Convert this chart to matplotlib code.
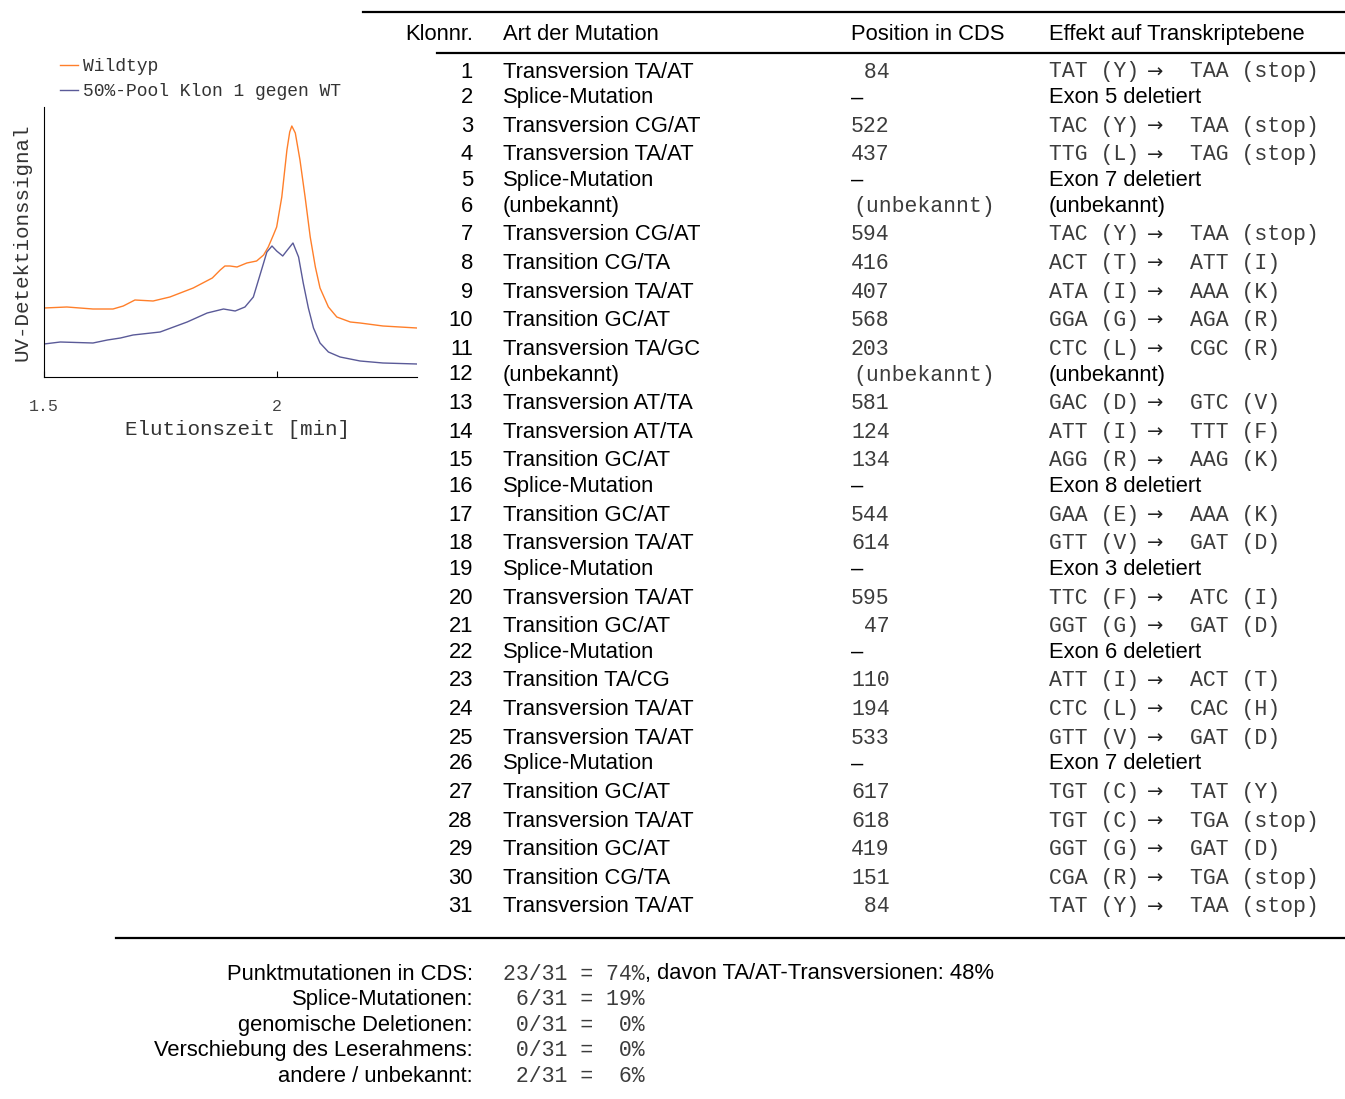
import matplotlib
matplotlib.use('Agg')
import matplotlib.pyplot as plt
from matplotlib.lines import Line2D

W, H = 1345, 1099

# chromatogram, signal in arbitrary units
time_wt = [1.500, 1.549, 1.605, 1.648, 1.670, 1.695, 1.734, 1.770, 1.820, 1.861,
           1.878, 1.888, 1.899, 1.914, 1.935, 1.956, 1.971, 1.981, 1.992, 1.999,
           2.010, 2.021, 2.027, 2.0315, 2.039, 2.049, 2.060, 2.071, 2.082, 2.092,
           2.110, 2.128, 2.157, 2.178, 2.227, 2.300]
sig_wt = [69, 70, 68, 68, 71, 77, 76, 80, 89, 99,
          107, 111, 111, 110, 114, 116, 122, 130, 142, 150,
          180, 227, 245, 251, 244, 217, 180, 140, 110, 89,
          70, 60, 55, 54, 51, 49]

time_pool = [1.500, 1.535, 1.605, 1.636, 1.664, 1.691, 1.749, 1.807, 1.850, 1.885,
             1.910, 1.931, 1.949, 1.960, 1.971, 1.978, 1.989, 1.999, 2.012, 2.022,
             2.034, 2.046, 2.056, 2.067, 2.078, 2.092, 2.110, 2.135, 2.178, 2.227,
             2.300]
sig_pool = [33, 35, 34, 37, 39, 42, 45, 55, 64, 68,
            66, 70, 80, 97, 114, 125, 131, 126, 121, 127,
            134, 120, 94, 69, 49, 34, 25, 20, 16, 14,
            13]

# table
klon = list(range(1, 32))
art = ['Transversion TA/AT', 'Splice-Mutation', 'Transversion CG/AT', 'Transversion TA/AT',
       'Splice-Mutation', '(unbekannt)', 'Transversion CG/AT', 'Transition CG/TA',
       'Transversion TA/AT', 'Transition GC/AT', 'Transversion TA/GC', '(unbekannt)',
       'Transversion AT/TA', 'Transversion AT/TA', 'Transition GC/AT', 'Splice-Mutation',
       'Transition GC/AT', 'Transversion TA/AT', 'Splice-Mutation', 'Transversion TA/AT',
       'Transition GC/AT', 'Splice-Mutation', 'Transition TA/CG', 'Transversion TA/AT',
       'Transversion TA/AT', 'Splice-Mutation', 'Transition GC/AT', 'Transversion TA/AT',
       'Transition GC/AT', 'Transition CG/TA', 'Transversion TA/AT']
position = ['84', '–', '522', '437', '–', '(unbekannt)', '594', '416', '407', '568',
            '203', '(unbekannt)', '581', '124', '134', '–', '544', '614', '–', '595',
            '47', '–', '110', '194', '533', '–', '617', '618', '419', '151', '84']
effekt = ['TAT (Y) → TAA (stop)', 'Exon 5 deletiert', 'TAC (Y) → TAA (stop)',
          'TTG (L) → TAG (stop)', 'Exon 7 deletiert', '(unbekannt)',
          'TAC (Y) → TAA (stop)', 'ACT (T) → ATT (I)', 'ATA (I) → AAA (K)',
          'GGA (G) → AGA (R)', 'CTC (L) → CGC (R)', '(unbekannt)',
          'GAC (D) → GTC (V)', 'ATT (I) → TTT (F)', 'AGG (R) → AAG (K)',
          'Exon 8 deletiert', 'GAA (E) → AAA (K)', 'GTT (V) → GAT (D)',
          'Exon 3 deletiert', 'TTC (F) → ATC (I)', 'GGT (G) → GAT (D)',
          'Exon 6 deletiert', 'ATT (I) → ACT (T)', 'CTC (L) → CAC (H)',
          'GTT (V) → GAT (D)', 'Exon 7 deletiert', 'TGT (C) → TAT (Y)',
          'TGT (C) → TGA (stop)', 'GGT (G) → GAT (D)', 'CGA (R) → TGA (stop)',
          'TAT (Y) → TAA (stop)']
headers = ['Klonnr.', 'Art der Mutation', 'Position in CDS', 'Effekt auf Transkriptebene']

sum_labels = ['Punktmutationen in CDS:', 'Splice-Mutationen:', 'genomische Deletionen:',
              'Verschiebung des Leserahmens:', 'andere / unbekannt:']
sum_count = [23, 6, 0, 0, 2]
sum_total = 31
sum_pct = [74, 19, 0, 0, 6]
sum_extra = ', davon TA/AT-Transversionen: 48%'

SANS = ['Liberation Sans', 'DejaVu Sans']
MONO = ['Liberation Mono', 'DejaVu Sans Mono']
MONO_COL = '#3c3c3c'
FS = 15.8
FS_M = 15.5


def fx(x):
    return x / W


def fy(y):
    return 1 - y / H


fig = plt.figure(figsize=(W / 100, H / 100), dpi=100)

# chart ------------------------------------------------------
ax = fig.add_axes([fx(44), fy(377), (417 - 44) / W, (377 - 107) / H])
ax.plot(time_wt, sig_wt, color='#ff7f2a', lw=1.0, label='Wildtyp')
ax.plot(time_pool, sig_pool, color='#5a5a98', lw=1.0, label='50%-Pool Klon 1 gegen WT')
ax.set_xlim(1.5, 2.3)
ax.set_ylim(0, 270)
ax.spines['top'].set_visible(False)
ax.spines['right'].set_visible(False)
ax.set_yticks([])
ax.set_xticks([1.5, 2])
ax.set_xticklabels(['1.5', '2'])
ax.tick_params(axis='x', direction='in', length=4, pad=16, labelsize=12,
               labelcolor='#444444')
for lab in ax.get_xticklabels():
    lab.set_family(MONO)
ax.set_xlabel('Elutionszeit [min]', family=MONO, fontsize=15, color='#333333')
ax.xaxis.set_label_coords(0.52, -0.16)
ax.set_ylabel('UV-Detektionssignal', family=MONO, fontsize=15, color='#333333', labelpad=9)
ax.legend(loc='upper left', bbox_to_anchor=(fx(60), fy(58)), bbox_transform=fig.transFigure,
          frameon=False, borderpad=0, borderaxespad=0, handlelength=1.0,
          handletextpad=0.3, labelspacing=0.45,
          prop={'family': MONO, 'size': 13}, labelcolor='#333333')

# table ------------------------------------------------------
def hline(x0, x1, y):
    fig.add_artist(Line2D([fx(x0), fx(x1)], [fy(y), fy(y)], color='black', lw=1.6,
                          transform=fig.transFigure))


hline(363, W, 12)
hline(437, W, 53)
hline(116, W, 938)

col_x = [473, 503, 851, 1049]
head_base = 40
fig.text(fx(col_x[0]), fy(head_base), headers[0], ha='right', va='baseline',
         family=SANS, fontsize=FS)
for cx, h in zip(col_x[1:], headers[1:]):
    fig.text(fx(cx), fy(head_base), h, ha='left', va='baseline', family=SANS, fontsize=FS)

y = 77.5
for i in range(len(klon)):
    mono_eff = '→' in effekt[i]
    if i > 0:
        y += 28.6 if mono_eff else 25.7
    fig.text(fx(col_x[0]), fy(y), str(klon[i]), ha='right', va='baseline',
             family=SANS, fontsize=FS)
    fig.text(fx(col_x[1]), fy(y), art[i], ha='left', va='baseline', family=SANS, fontsize=FS)
    p = position[i]
    if p == '–':
        fig.text(fx(col_x[2]), fy(y), p, ha='left', va='baseline', family=SANS, fontsize=FS)
    elif p.isdigit():
        fig.text(fx(col_x[2]), fy(y), f'{p:>3}', ha='left', va='baseline', family=MONO,
                 fontsize=FS_M, color=MONO_COL)
    else:
        fig.text(fx(col_x[2] + 2), fy(y), p, ha='left', va='baseline', family=MONO,
                 fontsize=FS_M, color=MONO_COL)
    if mono_eff:
        left, right = effekt[i].split('→')
        fig.text(fx(col_x[3]), fy(y), left.strip(), ha='left', va='baseline',
                 family=MONO, fontsize=FS_M, color=MONO_COL)
        fig.text(fx(1155), fy(y), '→', ha='center', va='baseline',
                 family=['DejaVu Sans'], fontsize=14, color='#222222')
        fig.text(fx(1190), fy(y), right.strip(), ha='left', va='baseline',
                 family=MONO, fontsize=FS_M, color=MONO_COL)
    else:
        fig.text(fx(col_x[3]), fy(y), effekt[i], ha='left', va='baseline',
                 family=SANS, fontsize=FS)

# summary ----------------------------------------------------
for i, lab in enumerate(sum_labels):
    yb = 979.5 + i * 25.6
    fig.text(fx(473), fy(yb), lab, ha='right', va='baseline', family=SANS, fontsize=FS)
    val = fig.text(fx(503), fy(yb), f'{sum_count[i]:>2}/{sum_total} = {sum_pct[i]:>2}%',
                   ha='left', va='baseline', family=MONO, fontsize=FS_M, color=MONO_COL)
    if i == 0:
        ax.annotate(sum_extra, xy=(1, 0), xycoords=val, ha='left', va='bottom',
                    family=SANS, fontsize=FS, annotation_clip=False)

fig.savefig('out.png', dpi=100)
plt.close(fig)
